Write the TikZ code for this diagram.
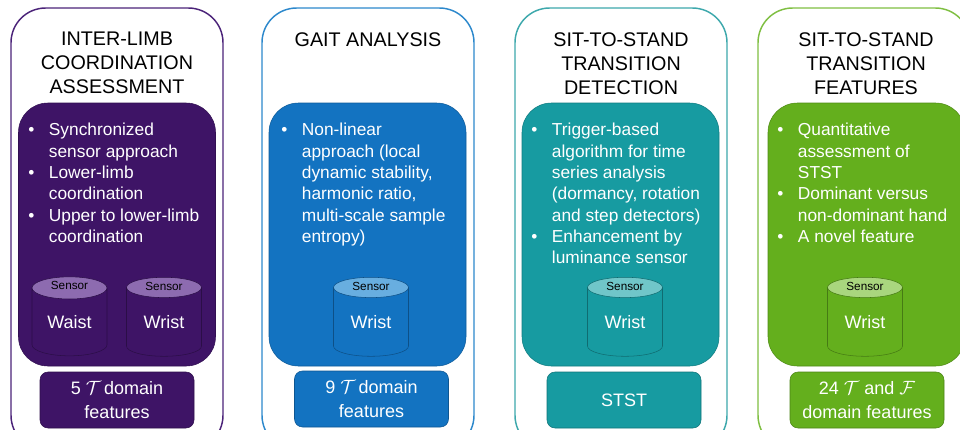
\documentclass[tikz,border=0pt]{standalone}
\usepackage{fontspec}
\setmainfont{Liberation Sans}
\usepackage{tikz}
\usetikzlibrary{shapes.geometric,calc}
\usepackage{xcolor}

\definecolor{limbcol}{HTML}{3E1466}
\definecolor{limblight}{HTML}{8D6BB0}
\definecolor{limbline}{HTML}{4B2379}
\definecolor{gaitcol}{HTML}{1373C1}
\definecolor{gaitlight}{HTML}{68AEE0}
\definecolor{gaitline}{HTML}{2C88CC}
\definecolor{stdcol}{HTML}{179BA1}
\definecolor{stdlight}{HTML}{70C6C9}
\definecolor{stdline}{HTML}{3DA8AC}
\definecolor{stfcol}{HTML}{64AF1D}
\definecolor{stflight}{HTML}{A9D67E}
\definecolor{stfline}{HTML}{7FBF42}

\newcommand{\bul}{\makebox[15.5pt][l]{\textbullet}}
\newcommand{\ind}{\hspace*{15.5pt}}

\begin{document}
\begin{tikzpicture}[x=0.75pt, y=-0.75pt,
    outerbox/.style={draw=#1, line width=1.1pt, fill=white, rounded corners=26pt, minimum width=159pt, minimum height=331.5pt},
    innerbox/.style={draw=#1!80!black, fill=#1, rounded corners=22pt, minimum width=147.75pt, minimum height=197.25pt},
    featbox/.style={draw=#1!75!black, fill=#1, rounded corners=6pt, minimum width=115.5pt, minimum height=42pt, text=white, align=center, font=\fontsize{13.5}{18.5}\selectfont},
    title/.style={anchor=north, inner sep=0pt, align=center, font=\fontsize{14.8}{18}\selectfont},
    bullets/.style={anchor=north west, inner sep=0pt, align=left, text=white, font=\fontsize{13}{16}\selectfont},
    sensor/.style 2 args={cylinder, shape border rotate=90, aspect=0.5, draw=#1!70!black, cylinder uses custom fill, cylinder body fill=#1, cylinder end fill=#2, minimum width=56.25pt, minimum height=59.25pt, inner sep=0pt, text=white, font=\fontsize{13.5}{16}\selectfont},
    senslabel/.style={inner sep=0pt, font=\fontsize{8.8}{10}\selectfont}]
    \useasboundingbox (0,0) rectangle (960,429);
    \clip (0,0) rectangle (960,429);

    % Inter-limb coordination
    \node[outerbox=limbline] (limbouter) at (117,229) {};
    \node[title] (limbtitle) at (117,32) {INTER-LIMB\\COORDINATION\\ASSESSMENT};
    \node[innerbox=limbcol] (limbinner) at (117,234.5) {};
    \node[bullets] (limbtext) at (28,123) {\bul Synchronized\\ \ind sensor approach\\ \bul Lower-limb\\ \ind coordination\\ \bul Upper to lower-limb\\ \ind coordination};
    \node[sensor={limbcol}{limblight}] (limbwaist) at (69.5,322) {Waist};
    \node[senslabel] (limbwaistlbl) at ($(limbwaist.north)+(0,9)$) {Sensor};
    \node[sensor={limbcol}{limblight}] (limbwrist) at (164,322) {Wrist};
    \node[senslabel] (limbwristlbl) at ($(limbwrist.north)+(0,9)$) {Sensor};
    \node[featbox=limbcol] (limbfeat) at (117,400) {5 $\mathcal{T}$\,domain\\features};

    % Gait analysis
    \node[outerbox=gaitline] (gaitouter) at (368,229) {};
    \node[title] (gaittitle) at (368,32) {GAIT ANALYSIS};
    \node[innerbox=gaitcol] (gaitinner) at (367.5,234.5) {};
    \node[bullets] (gaittext) at (281,123) {\bul Non-linear\\ \ind approach (local\\ \ind dynamic stability,\\ \ind harmonic ratio,\\ \ind multi-scale sample\\ \ind entropy)};
    \node[sensor={gaitcol}{gaitlight}] (gaitwrist) at (371,322) {Wrist};
    \node[senslabel] (gaitwristlbl) at ($(gaitwrist.north)+(0,9)$) {Sensor};
    \node[featbox=gaitcol] (gaitfeat) at (371.5,399) {9 $\mathcal{T}$\,domain\\features};

    % Sit-to-stand detection
    \node[outerbox=stdline] (stdouter) at (621,229) {};
    \node[title] (stdtitle) at (621,32) {SIT-TO-STAND\\TRANSITION\\DETECTION};
    \node[innerbox=stdcol] (stdinner) at (620.5,234.5) {};
    \node[bullets] (stdtext) at (531,123) {\bul Trigger-based\\ \ind algorithm for time\\ \ind series analysis\\ \ind (dormancy, rotation\\ \ind and step detectors)\\ \bul Enhancement by\\ \ind luminance sensor};
    \node[sensor={stdcol}{stdlight}] (stdwrist) at (625,322) {Wrist};
    \node[senslabel] (stdwristlbl) at ($(stdwrist.north)+(0,9)$) {Sensor};
    \node[featbox=stdcol] (stdfeat) at (624,400) {STST};

    % Sit-to-stand features
    \node[outerbox=stfline] (stfouter) at (864,229) {};
    \node[title] (stftitle) at (866,32) {SIT-TO-STAND\\TRANSITION\\FEATURES};
    \node[innerbox=stfcol] (stfinner) at (866.5,234.5) {};
    \node[bullets] (stftext) at (777,123) {\bul Quantitative\\ \ind assessment of\\ \ind STST\\ \bul Dominant versus\\ \ind non-dominant hand\\ \bul A novel feature};
    \node[sensor={stfcol}{stflight}] (stfwrist) at (865,322) {Wrist};
    \node[senslabel] (stfwristlbl) at ($(stfwrist.north)+(0,9)$) {Sensor};
    \node[featbox=stfcol] (stffeat) at (867,400) {24 $\mathcal{T}$ and $\mathcal{F}$\\domain features};
\end{tikzpicture}
\end{document}
